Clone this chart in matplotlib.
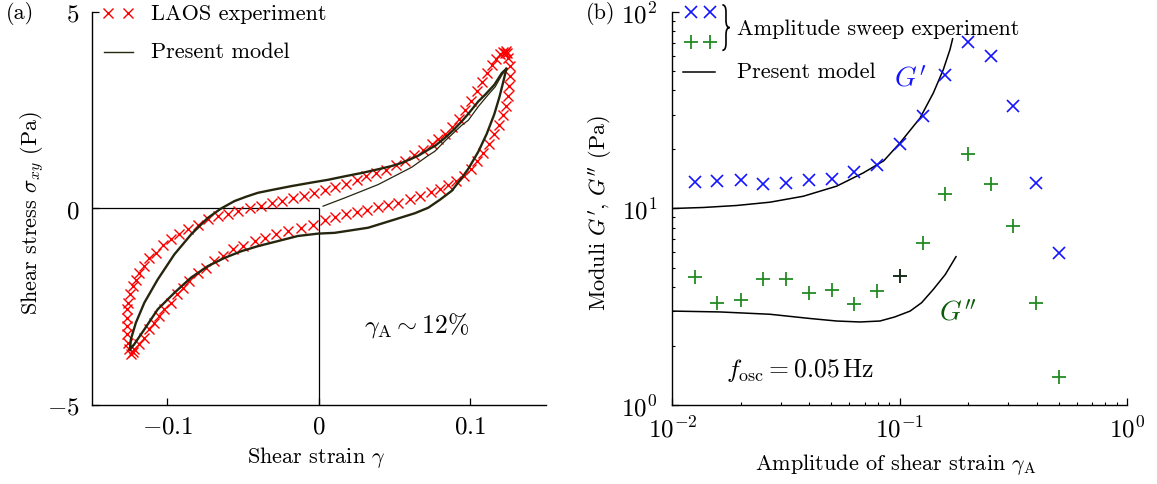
import matplotlib
matplotlib.use("Agg")
import matplotlib.pyplot as plt
from matplotlib.path import Path
from matplotlib.patches import PathPatch
import numpy as np

plt.rcParams['font.family'] = ['cmr10', 'DejaVu Serif']
plt.rcParams['mathtext.fontset'] = 'cm'
plt.rcParams['axes.unicode_minus'] = False
plt.rcParams['axes.formatter.use_mathtext'] = True

# ---------------- Panel (a) data ----------------
laos_up_x = [0.1235, 0.1228, 0.1215, 0.1195, 0.1170, 0.1143, 0.1110, 0.1077, 0.1044, 0.1005,
             0.0967, 0.0925, 0.0880, 0.0834, 0.0790, 0.0746, 0.0691, 0.0630, 0.0570, 0.0510,
             0.0445, 0.0380, 0.0315, 0.0250, 0.0180, 0.0110, 0.0040, -0.0030, -0.0100, -0.0170,
             -0.0240, -0.0310, -0.0380, -0.0457, -0.0534, -0.0600, -0.0667, -0.0733, -0.0799, -0.0865,
             -0.0920, -0.0976, -0.1031, -0.1075, -0.1119, -0.1152, -0.1185, -0.1208, -0.1230, -0.1245,
             -0.1258, -0.1267, -0.1267, -0.1267, -0.1267, -0.1263, -0.1252, -0.1240]
laos_up_y = [4.02, 3.97, 4.00, 3.93, 3.82, 3.66, 3.45, 3.22, 2.99, 2.75,
             2.50, 2.27, 2.07, 1.90, 1.77, 1.64, 1.50, 1.36, 1.22, 1.10,
             0.99, 0.90, 0.82, 0.72, 0.63, 0.55, 0.46, 0.40, 0.33, 0.27,
             0.20, 0.14, 0.07, 0.00, -0.07, -0.15, -0.20, -0.28, -0.41, -0.53,
             -0.66, -0.79, -0.94, -1.13, -1.26, -1.47, -1.64, -1.81, -1.98, -2.19,
             -2.40, -2.57, -2.78, -2.99, -3.21, -3.42, -3.59, -3.70]
laos_lo_x = [-0.1230, -0.1219, -0.1185, -0.1152, -0.1119, -0.1086, -0.1053, -0.1020, -0.0976, -0.0936,
             -0.0898, -0.0854, -0.0799, -0.0744, -0.0689, -0.0634, -0.0567, -0.0501, -0.0424, -0.0358,
             -0.0280, -0.0203, -0.0115, -0.0038, 0.0040, 0.0110, 0.0180, 0.0250, 0.0320, 0.0390,
             0.0460, 0.0525, 0.0600, 0.0670, 0.0740, 0.0800, 0.0857, 0.0910, 0.0960, 0.1005,
             0.1045, 0.1085, 0.1125, 0.1160, 0.1190, 0.1215, 0.1235, 0.1250, 0.1260, 0.1265,
             0.1262, 0.1254, 0.1243]
laos_lo_y = [-3.66, -3.59, -3.46, -3.29, -3.08, -2.91, -2.74, -2.57, -2.40, -2.19,
             -2.02, -1.85, -1.64, -1.51, -1.34, -1.21, -1.04, -0.96, -0.83, -0.75,
             -0.66, -0.58, -0.49, -0.41, -0.30, -0.22, -0.14, -0.08, -0.03, 0.03,
             0.09, 0.15, 0.23, 0.33, 0.41, 0.50, 0.60, 0.70, 0.84, 1.00,
             1.22, 1.42, 1.65, 1.90, 2.13, 2.38, 2.62, 2.87, 3.11, 3.37,
             3.62, 3.83, 3.96]

model_up_x = [0.1240, 0.1210, 0.1160, 0.1100, 0.1055, 0.0990, 0.0945, 0.0890, 0.0834, 0.0770,
              0.0724, 0.0660, 0.0614, 0.0547, 0.0480, 0.0393, 0.0290, 0.0172, 0.0060, -0.0049,
              -0.0181, -0.0300, -0.0402, -0.0480, -0.0556, -0.0645, -0.0733, -0.0843, -0.0954, -0.1064,
              -0.1152, -0.1208, -0.1241, -0.1247]
model_up_y = [3.56, 3.45, 3.15, 2.90, 2.73, 2.42, 2.22, 2.00, 1.80, 1.60,
              1.50, 1.35, 1.27, 1.16, 1.08, 1.00, 0.91, 0.82, 0.73, 0.66,
              0.57, 0.48, 0.40, 0.30, 0.19, 0.00, -0.24, -0.66, -1.17, -1.81,
              -2.40, -2.91, -3.33, -3.59]
model_lo_x = [-0.1247, -0.1219, -0.1152, -0.1064, -0.0954, -0.0843, -0.0733, -0.0623, -0.0512, -0.0402,
              -0.0269, -0.0137, -0.0004, 0.0106, 0.0327, 0.0503, 0.0636, 0.0724, 0.0800, 0.0879,
              0.0940, 0.0990, 0.1055, 0.1110, 0.1160, 0.1195, 0.1221, 0.1240]
model_lo_y = [-3.59, -3.46, -3.08, -2.57, -2.15, -1.76, -1.47, -1.26, -1.09, -0.96,
              -0.83, -0.70, -0.64, -0.62, -0.49, -0.28, -0.12, 0.02, 0.22, 0.45,
              0.75, 1.02, 1.45, 1.90, 2.40, 2.85, 3.25, 3.56]
model_init_x = [0.0029, 0.0172, 0.0393, 0.0614, 0.0724, 0.0768, 0.0834, 0.0945, 0.0989, 0.1055,
                0.1120, 0.1166, 0.1210, 0.1240]
model_init_y = [0.06, 0.27, 0.61, 1.05, 1.35, 1.46, 1.72, 2.12, 2.25, 2.60,
                2.90, 3.10, 3.40, 3.56]

A_XLIM = [-0.15, 0.15]
A_YLIM = [-5, 5]
A_XTICKS = [-0.1, 0, 0.1]
A_XTICKLABELS = [r'$-0.1$', r'$0$', r'$0.1$']
A_YTICKS = [-5, 0, 5]
A_YTICKLABELS = [r'$-5$', r'$0$', r'$5$']

# ---------------- Panel (b) data ----------------
gamma_A = [0.0126, 0.0158, 0.0200, 0.0251, 0.0316, 0.0398, 0.0501, 0.0631, 0.0794, 0.100,
           0.126, 0.158, 0.200, 0.251, 0.316, 0.398, 0.501]
G_storage = [13.6, 13.8, 13.9, 13.35, 13.5, 14.0, 14.15, 15.3, 16.7, 21.3,
             29.5, 48.0, 70.2, 59.6, 33.4, 13.5, 5.9]
G_loss = [4.45, 3.28, 3.40, 4.39, 4.35, 3.72, 3.84, 3.25, 3.80, 4.55,
          6.64, 11.8, 19.05, 13.35, 8.1, 3.28, 1.39]

model_Gp_x = [0.0100, 0.0137, 0.0192, 0.0269, 0.0377, 0.0528, 0.0692, 0.0850, 0.1002, 0.1227,
              0.1404, 0.1553, 0.1662, 0.1707]
model_Gp_y = [10.0, 10.12, 10.36, 10.77, 11.55, 13.0, 15.2, 17.5, 21.6, 28.9,
              38.8, 51.0, 64.6, 73.3]
model_Gpp_x = [0.0100, 0.0162, 0.0269, 0.0403, 0.0528, 0.0668, 0.0818, 0.0950, 0.1110, 0.1247,
               0.1404, 0.1585, 0.1766]
model_Gpp_y = [3.00, 2.97, 2.89, 2.75, 2.67, 2.64, 2.67, 2.80, 3.00, 3.31,
               3.87, 4.61, 5.68]

B_XLIM = [1e-2, 1e0]
B_YLIM = [1e0, 1e2]
B_XTICKS = [1e-2, 1e-1, 1e0]
B_XTICKLABELS = [r'$10^{-2}$', r'$10^{-1}$', r'$10^{0}$']
B_YTICKS = [1e0, 1e1, 1e2]
B_YTICKLABELS = [r'$10^{0}$', r'$10^{1}$', r'$10^{2}$']

# ---------------- styles ----------------
RED = '#ff0000'
BLUE = '#1414ff'
GREEN = '#238b23'
DARKGREEN = '#0c5a0c'
MODEL_A = '#26260f'
DARK_PLUS_INDEX = 9

FS_TICK = 18
FS_LAB = 16

fig = plt.figure(figsize=(11.57, 4.85), dpi=100)
ax1 = fig.add_axes([0.07926, 0.16351, 0.39239, 0.80907])
ax2 = fig.add_axes([0.58107, 0.16351, 0.39326, 0.80907])

for ax in (ax1, ax2):
    ax.spines['top'].set_visible(False)
    ax.spines['right'].set_visible(False)
    for s in ('left', 'bottom'):
        ax.spines[s].set_linewidth(1.0)

# ---------- panel (a) ----------
ax1.set_xlim(A_XLIM)
ax1.set_ylim(A_YLIM)
ax1.hlines(0, A_XLIM[0], 0, colors='black', lw=0.9, zorder=1)
ax1.vlines(0, A_YLIM[0], 0, colors='black', lw=0.9, zorder=1)

ax1.plot(laos_up_x, laos_up_y, ls='none', marker='x', ms=7.5, mew=1.0, color=RED, zorder=2)
ax1.plot(laos_lo_x, laos_lo_y, ls='none', marker='x', ms=7.5, mew=1.0, color=RED, zorder=2)
ax1.plot(model_up_x, model_up_y, color=MODEL_A, lw=1.7, zorder=3)
ax1.plot(model_lo_x, model_lo_y, color=MODEL_A, lw=1.7, zorder=3)
ax1.plot(model_init_x, model_init_y, color=MODEL_A, lw=0.9, zorder=3)

ax1.set_xticks(A_XTICKS)
ax1.set_xticklabels(A_XTICKLABELS)
ax1.set_yticks(A_YTICKS)
ax1.set_yticklabels(A_YTICKLABELS)
ax1.tick_params(direction='in', length=5, width=0.9, labelsize=FS_TICK)
ax1.tick_params(axis='x', pad=8)
ax1.tick_params(axis='y', pad=9)

ax1.set_xlabel(r'Shear strain $\gamma$', fontsize=FS_LAB, va='center')
ax1.set_ylabel(r'Shear stress $\sigma_{xy}$ (Pa)', fontsize=FS_LAB, va='center')
ax1.xaxis.set_label_coords(0.494, -0.133)
ax1.yaxis.set_label_coords(-0.132, 0.49)

ax1.text(0.03, -2.95, r'$\gamma_{\rm A} \sim 12\%$', fontsize=18.5, ha='left', va='center')

# legend (a)
ax1.plot([0.0366, 0.0806], [0.998, 0.998], ls='none', marker='x', ms=7.5, mew=1.0,
         color=RED, transform=ax1.transAxes, clip_on=False)
ax1.plot([0.026, 0.092], [0.90, 0.90], color=MODEL_A, lw=1.0,
         transform=ax1.transAxes, clip_on=False)
ax1.text(0.13, 0.998, 'LAOS experiment', fontsize=FS_LAB, ha='left', va='center',
         transform=ax1.transAxes)
ax1.text(0.13, 0.90, 'Present model', fontsize=FS_LAB, ha='left', va='center',
         transform=ax1.transAxes)

# ---------- panel (b) ----------
ax2.set_xscale('log')
ax2.set_yscale('log')
ax2.set_xlim(B_XLIM)
ax2.set_ylim(B_YLIM)

ax2.plot(model_Gp_x, model_Gp_y, color='black', lw=1.1, zorder=2)
ax2.plot(model_Gpp_x, model_Gpp_y, color='black', lw=1.1, zorder=2)
ax2.plot(gamma_A, G_storage, ls='none', marker='x', ms=8.5, mew=1.2, color=BLUE, zorder=3)
ax2.plot(gamma_A, G_loss, ls='none', marker='+', ms=10, mew=1.3, color=GREEN, zorder=3)
ax2.plot([gamma_A[DARK_PLUS_INDEX]], [G_loss[DARK_PLUS_INDEX]], ls='none', marker='+', ms=10,
         mew=1.3, color='#1c2a1c', zorder=4)

ax2.set_xticks(B_XTICKS)
ax2.set_xticklabels(B_XTICKLABELS)
ax2.set_yticks(B_YTICKS)
ax2.set_yticklabels(B_YTICKLABELS)
ax2.tick_params(which='major', direction='in', length=5, width=0.9, labelsize=FS_TICK)
ax2.tick_params(which='minor', direction='in', length=2.5, width=0.8)
ax2.tick_params(axis='x', which='major', pad=8)
ax2.tick_params(axis='y', which='major', pad=11)

ax2.set_xlabel(r'Amplitude of shear strain $\gamma_{\rm A}$', fontsize=FS_LAB, va='center')
ax2.set_ylabel(r"Moduli $G'$, $G''$ (Pa)", fontsize=FS_LAB, va='center')
ax2.xaxis.set_label_coords(0.491, -0.151)
ax2.yaxis.set_label_coords(-0.158, 0.49)

ax2.text(0.131, 45.7, r"$G'$", color=BLUE, fontsize=20, ha='right', va='center')
ax2.text(0.148, 2.94, r"$G''$", color=DARKGREEN, fontsize=20, ha='left', va='center')
ax2.text(0.0172, 1.52, r'$f_{\rm osc} = 0.05\,{\rm Hz}$', fontsize=18.5, ha='left', va='center')

# legend (b)
ax2.plot([0.041, 0.083], [1.0, 1.0], ls='none', marker='x', ms=8.5, mew=1.2, color=BLUE,
         transform=ax2.transAxes, clip_on=False)
ax2.plot([0.041, 0.083], [0.925, 0.925], ls='none', marker='+', ms=10, mew=1.3, color=GREEN,
         transform=ax2.transAxes, clip_on=False)

# thin curly brace grouping the two marker rows
bx0, bw = 0.110, 0.016
by0, by1 = 0.903, 1.019
bym = 0.5 * (by0 + by1)
bxm = bx0 + bw / 2
dy = 0.018
brace_verts = [(bx0, by1), (bxm, by1), (bxm, by1 - dy),
               (bxm, bym + dy),
               (bxm, bym), (bx0 + bw, bym),
               (bxm, bym), (bxm, bym - dy),
               (bxm, by0 + dy),
               (bxm, by0), (bx0, by0)]
brace_codes = [Path.MOVETO, Path.CURVE3, Path.CURVE3,
               Path.LINETO,
               Path.CURVE3, Path.CURVE3,
               Path.CURVE3, Path.CURVE3,
               Path.LINETO,
               Path.CURVE3, Path.CURVE3]
ax2.add_patch(PathPatch(Path(brace_verts, brace_codes), fill=False, lw=1.2, edgecolor='black',
                        transform=ax2.transAxes, clip_on=False))

ax2.text(0.1415, 0.959, 'Amplitude sweep experiment', fontsize=FS_LAB, ha='left', va='center',
         transform=ax2.transAxes)
ax2.plot([0.0235, 0.0938], [0.849, 0.849], color='black', lw=1.1,
         transform=ax2.transAxes, clip_on=False)
ax2.text(0.1415, 0.849, 'Present model', fontsize=FS_LAB, ha='left', va='center',
         transform=ax2.transAxes)

fig.text(0.017, 0.973, '(a)', fontsize=FS_LAB, ha='center', va='center')
fig.text(0.5195, 0.973, '(b)', fontsize=FS_LAB, ha='center', va='center')

fig.savefig('out.png', dpi=100)
